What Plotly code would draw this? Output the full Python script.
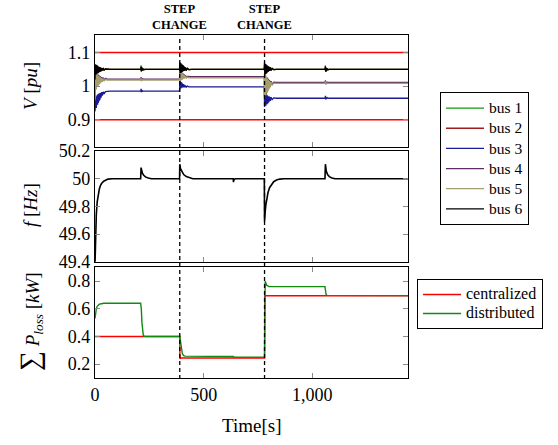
import plotly.graph_objects as go

# ---------------- data ----------------
X_TICKS = [0, 500, 1000]
STEP_TIMES = [390, 780]
V_LIMITS = [0.9, 1.1]
T_END = [0, 1440]

T_V = [0, 1.5, 3, 4.5, 6, 7.5, 9, 10.5, 12, 13.5, 15, 17, 19, 21, 23, 25, 28, 31, 34, 38, 42, 48, 55, 70,
       211, 212, 213, 214, 215, 216, 218, 220, 223, 230,
       389, 390, 391.5, 393, 394.5, 396, 397.5, 399, 400.5, 402, 404, 406, 408, 410, 413, 416, 420, 425, 432, 445,
       636, 638, 640,
       779, 780, 781.5, 783, 784.5, 786, 787.5, 789, 790.5, 792, 794, 796, 798, 800, 803, 806, 810, 815, 822, 835,
       1059, 1060, 1061, 1062, 1063, 1064, 1066, 1068, 1071, 1078, 1440]

V_BUS1 = [1.01, 1.06, 1.03, 1.059, 1.033, 1.058, 1.036, 1.057, 1.038, 1.056, 1.04, 1.056, 1.042, 1.055, 1.043, 1.054, 1.045, 1.053, 1.047, 1.052, 1.048, 1.051, 1.05, 1.05,
          1.05, 1.062, 1.043, 1.058, 1.045, 1.055, 1.047, 1.052, 1.049, 1.05,
          1.05, 1.066, 1.042, 1.065, 1.043, 1.063, 1.044, 1.061, 1.045, 1.06, 1.046, 1.058, 1.046, 1.056, 1.047, 1.054, 1.048, 1.052, 1.049, 1.05,
          1.05, 1.051, 1.05,
          1.05, 1.064, 1.039, 1.063, 1.04, 1.061, 1.041, 1.06, 1.042, 1.058, 1.043, 1.057, 1.045, 1.056, 1.046, 1.054, 1.047, 1.052, 1.049, 1.05,
          1.05, 1.058, 1.044, 1.055, 1.046, 1.053, 1.047, 1.052, 1.049, 1.05, 1.05]
V_BUS2 = [1.0, 1.061, 1.028, 1.06, 1.031, 1.059, 1.034, 1.058, 1.037, 1.057, 1.039, 1.056, 1.041, 1.055, 1.043, 1.054, 1.045, 1.053, 1.047, 1.052, 1.048, 1.051, 1.05, 1.05,
          1.05, 1.057, 1.045, 1.055, 1.046, 1.053, 1.047, 1.052, 1.049, 1.05,
          1.05, 1.068, 1.041, 1.066, 1.042, 1.064, 1.043, 1.062, 1.044, 1.06, 1.045, 1.058, 1.046, 1.056, 1.047, 1.054, 1.048, 1.052, 1.049, 1.05,
          1.05, 1.051, 1.05,
          1.05, 1.066, 1.038, 1.064, 1.039, 1.062, 1.04, 1.06, 1.042, 1.059, 1.043, 1.057, 1.045, 1.056, 1.046, 1.054, 1.047, 1.052, 1.049, 1.05,
          1.05, 1.061, 1.043, 1.057, 1.045, 1.054, 1.047, 1.052, 1.049, 1.05, 1.05]
V_BUS3 = [0.925, 0.968, 0.93, 0.97, 0.935, 0.972, 0.94, 0.974, 0.945, 0.976, 0.95, 0.977, 0.955, 0.979, 0.96, 0.98, 0.966, 0.982, 0.972, 0.983, 0.977, 0.984, 0.985, 0.985,
          0.985, 0.992, 0.982, 0.99, 0.983, 0.988, 0.984, 0.986, 0.985, 0.985,
          0.985, 1.015, 0.992, 1.013, 0.993, 1.011, 0.994, 1.009, 0.995, 1.008, 0.996, 1.006, 0.996, 1.004, 0.997, 1.002, 0.997, 1.0, 0.998, 0.998,
          0.998, 0.999, 0.998,
          0.998, 0.938, 0.976, 0.94, 0.975, 0.942, 0.974, 0.944, 0.973, 0.946, 0.972, 0.949, 0.97, 0.952, 0.969, 0.956, 0.967, 0.96, 0.965, 0.964,
          0.964, 0.971, 0.961, 0.969, 0.962, 0.967, 0.963, 0.966, 0.964, 0.964, 0.964]
V_BUS4 = [0.965, 1.046, 0.99, 1.043, 0.994, 1.04, 0.998, 1.037, 1.001, 1.035, 1.005, 1.033, 1.008, 1.031, 1.011, 1.029, 1.014, 1.027, 1.016, 1.025, 1.018, 1.023, 1.021, 1.021,
          1.021, 1.027, 1.018, 1.025, 1.019, 1.023, 1.02, 1.022, 1.021, 1.021,
          1.021, 1.05, 1.019, 1.047, 1.021, 1.044, 1.022, 1.042, 1.023, 1.04, 1.024, 1.037, 1.025, 1.035, 1.026, 1.032, 1.027, 1.029, 1.028, 1.028,
          1.028, 1.029, 1.028,
          1.028, 0.97, 1.035, 0.973, 1.033, 0.976, 1.03, 0.98, 1.027, 0.984, 1.024, 0.989, 1.021, 0.994, 1.018, 0.999, 1.015, 1.005, 1.012, 1.011,
          1.011, 1.017, 1.008, 1.015, 1.009, 1.013, 1.01, 1.012, 1.011, 1.011, 1.011]
V_BUS5 = [0.96, 1.042, 0.985, 1.04, 0.99, 1.037, 0.994, 1.034, 0.998, 1.032, 1.002, 1.03, 1.005, 1.028, 1.008, 1.026, 1.011, 1.024, 1.013, 1.022, 1.015, 1.02, 1.018, 1.018,
          1.018, 1.024, 1.015, 1.022, 1.016, 1.02, 1.017, 1.019, 1.018, 1.018,
          1.018, 1.048, 1.016, 1.045, 1.018, 1.042, 1.019, 1.04, 1.02, 1.038, 1.021, 1.035, 1.022, 1.033, 1.023, 1.03, 1.024, 1.027, 1.025, 1.025,
          1.025, 1.026, 1.025,
          1.025, 0.965, 1.032, 0.968, 1.03, 0.972, 1.027, 0.976, 1.024, 0.98, 1.021, 0.985, 1.018, 0.99, 1.015, 0.996, 1.012, 1.002, 1.009, 1.008,
          1.008, 1.014, 1.005, 1.012, 1.006, 1.01, 1.007, 1.009, 1.008, 1.008, 1.008]
V_BUS6 = [1.02, 1.063, 1.032, 1.062, 1.035, 1.061, 1.037, 1.06, 1.039, 1.059, 1.04, 1.058, 1.042, 1.057, 1.043, 1.056, 1.045, 1.054, 1.047, 1.053, 1.048, 1.051, 1.05, 1.05,
          1.05, 1.058, 1.044, 1.056, 1.045, 1.054, 1.047, 1.052, 1.049, 1.05,
          1.05, 1.072, 1.04, 1.07, 1.041, 1.068, 1.042, 1.066, 1.043, 1.064, 1.044, 1.062, 1.045, 1.059, 1.046, 1.056, 1.047, 1.053, 1.049, 1.05,
          1.05, 1.052, 1.05,
          1.05, 1.07, 1.036, 1.068, 1.037, 1.066, 1.038, 1.064, 1.04, 1.062, 1.042, 1.06, 1.043, 1.058, 1.045, 1.056, 1.047, 1.053, 1.049, 1.05,
          1.05, 1.058, 1.044, 1.056, 1.045, 1.054, 1.047, 1.052, 1.049, 1.05, 1.05]

BUS_NAMES = ["bus 1", "bus 2", "bus 3", "bus 4", "bus 5", "bus 6"]
BUS_COLORS = ["#109a10", "#9e1c1c", "#1a1a96", "#5c2c62", "#a39e6c", "#000000"]

T_F = [0, 3, 6, 10, 15, 20, 25, 30, 40, 50, 60, 80, 100,
       210, 212, 214, 218, 224, 232, 245, 260,
       389, 390, 391, 394, 400, 408, 420, 435, 450,
       636, 637, 638, 641, 646,
       779, 780, 781, 783, 786, 790, 796, 803, 812, 822, 835, 850, 870,
       1058, 1060, 1061, 1064, 1070, 1078, 1090, 1105, 1440]
FREQ = [49.38, 49.6, 49.74, 49.83, 49.89, 49.925, 49.95, 49.965, 49.982, 49.992, 49.997, 50.0, 50.0,
        50.0, 50.08, 50.062, 50.04, 50.025, 50.013, 50.005, 50.0,
        50.0, 50.105, 50.09, 50.07, 50.05, 50.03, 50.015, 50.006, 50.0,
        50.0, 49.975, 49.985, 49.995, 50.0,
        50.0, 49.69, 49.72, 49.76, 49.81, 49.86, 49.9, 49.935, 49.96, 49.978, 49.99, 49.997, 50.0,
        50.0, 50.105, 50.08, 50.055, 50.03, 50.015, 50.005, 50.0, 50.0]

T_C = [0, 390, 391, 395, 780, 781, 1440]
P_CENTRAL = [0.4, 0.4, 0.24, 0.245, 0.245, 0.694, 0.694]

T_D = [0, 3, 6, 10, 15, 20, 30, 40, 210, 213, 216, 219, 222, 226, 232,
       390, 393, 397, 402, 408, 414, 637, 640,
       780, 781, 783, 790, 800, 1058, 1060, 1063, 1067, 1440]
P_DISTR = [0.53, 0.575, 0.6, 0.618, 0.628, 0.633, 0.637, 0.64, 0.64, 0.6, 0.5, 0.43, 0.41, 0.403, 0.4,
           0.4, 0.37, 0.31, 0.275, 0.262, 0.258, 0.255, 0.25,
           0.25, 0.78, 0.8, 0.77, 0.76, 0.76, 0.73, 0.705, 0.697, 0.695]

# ---------------- figure ----------------
FONT = "Liberation Serif"
W, H = 558, 445
ML, MR, MT, MB = 95, 150, 35, 67
PW, PH = W - ML - MR, H - MT - MB

def px_x(px):
    return (px - ML) / PW

def px_y(py):
    return (H - MB - py) / PH

def big(txt, size):
    return f"<span style='font-size:{size}px'>{txt}</span>"

fig = go.Figure()

for lim in V_LIMITS:
    fig.add_trace(go.Scatter(x=T_END, y=[lim, lim], mode="lines",
                             line=dict(color="#ff0000", width=1.4),
                             showlegend=False, hoverinfo="skip",
                             xaxis="x", yaxis="y"))
for name, col, vals in zip(BUS_NAMES, BUS_COLORS,
                           [V_BUS1, V_BUS2, V_BUS3, V_BUS4, V_BUS5, V_BUS6]):
    fig.add_trace(go.Scatter(x=T_V, y=vals, mode="lines", name=big(name, 15.5),
                             line=dict(color=col, width=1.3),
                             legend="legend", xaxis="x", yaxis="y"))

fig.add_trace(go.Scatter(x=T_F, y=FREQ, mode="lines", showlegend=False,
                         line=dict(color="black", width=1.6),
                         xaxis="x2", yaxis="y2"))

fig.add_trace(go.Scatter(x=T_C, y=P_CENTRAL, mode="lines", name=big("centralized", 16),
                         line=dict(color="#ff0000", width=1.4),
                         legend="legend2", xaxis="x3", yaxis="y3"))
fig.add_trace(go.Scatter(x=T_D, y=P_DISTR, mode="lines", name=big("distributed", 16),
                         line=dict(color="#108a10", width=1.4),
                         legend="legend2", xaxis="x3", yaxis="y3"))

tickfont = dict(family=FONT, size=18, color="black")
axis_common = dict(showline=True, linecolor="black", linewidth=1.2, mirror="ticks",
                   ticks="inside", ticklen=5, tickcolor="#8a8a8a", tickwidth=1,
                   showgrid=False, zeroline=False, tickfont=tickfont)

xcommon = dict(axis_common, range=[0, 1440], tickvals=X_TICKS)

D_TOP = [px_y(146.7), 1.0]
D_MID = [px_y(261.7), px_y(151)]
D_BOT = [0.0, px_y(267.3)]

fig.update_layout(
    width=W, height=H,
    margin=dict(l=ML, r=MR, t=MT, b=MB, autoexpand=False),
    paper_bgcolor="white", plot_bgcolor="white",
    font=dict(family=FONT, color="black"),
    xaxis=dict(xcommon, anchor="y", showticklabels=False),
    xaxis2=dict(xcommon, anchor="y2", matches="x", showticklabels=False),
    xaxis3=dict(xcommon, anchor="y3", matches="x", tickformat=","),
    yaxis=dict(axis_common, domain=D_TOP, anchor="x", range=[0.82, 1.152],
               tickvals=[0.9, 1.0, 1.1], ticktext=["0.9", "1", "1.1"]),
    yaxis2=dict(axis_common, domain=D_MID, anchor="x2", range=[49.4, 50.2],
                tickvals=[49.4, 49.6, 49.8, 50.0, 50.2],
                ticktext=["49.4", "49.6", "49.8", "50", "50.2"]),
    yaxis3=dict(axis_common, domain=D_BOT, anchor="x3", range=[0.1, 0.9],
                tickvals=[0.2, 0.4, 0.6, 0.8],
                ticktext=["0.2", "0.4", "0.6", "0.8"]),
    legend=dict(x=px_x(440), y=px_y(92), xanchor="left", yanchor="top",
                bordercolor="black", borderwidth=1, bgcolor="white",
                itemwidth=38,
                font=dict(family=FONT, size=13.2, color="black")),
    legend2=dict(x=px_x(417), y=px_y(279), xanchor="left", yanchor="top",
                 bordercolor="black", borderwidth=1, bgcolor="white",
                 itemwidth=38,
                 font=dict(family=FONT, size=11.8, color="black")),
    showlegend=True,
)

for ts in STEP_TIMES:
    fig.add_shape(type="line", xref="x", yref="paper", x0=ts, x1=ts,
                  y0=px_y(379), y1=px_y(38),
                  line=dict(color="black", width=1.3, dash="4px,3px"))
    fig.add_annotation(x=ts, xref="x", y=px_y(34), yref="paper",
                       xanchor="center", yanchor="bottom", showarrow=False,
                       text="<b>STEP</b><br><b>CHANGE</b>",
                       font=dict(family=FONT, size=12.5, color="black"))

ytitles = [("<i>V</i> [<i>pu</i>]", 86),
           ("<i>f</i> [<i>Hz</i>]", 205),
           ("<span style='font-size:28px'>∑</span> <i>P</i><sub><i>loss</i></sub> [<i>kW</i>]", 322)]
for txt, cy in ytitles:
    fig.add_annotation(x=px_x(30), xref="paper", y=px_y(cy), yref="paper",
                       xanchor="center", yanchor="middle", textangle=-90,
                       showarrow=False, text=txt,
                       font=dict(family=FONT, size=19, color="black"))
fig.add_annotation(x=0.5, xref="paper", y=px_y(425), yref="paper",
                   xanchor="center", yanchor="middle", showarrow=False,
                   text="Time[s]", font=dict(family=FONT, size=19, color="black"))

fig.write_html("out.html", config={"displayModeBar": False},
               post_script="document.body.style.margin='0';document.body.style.overflow='hidden';")
